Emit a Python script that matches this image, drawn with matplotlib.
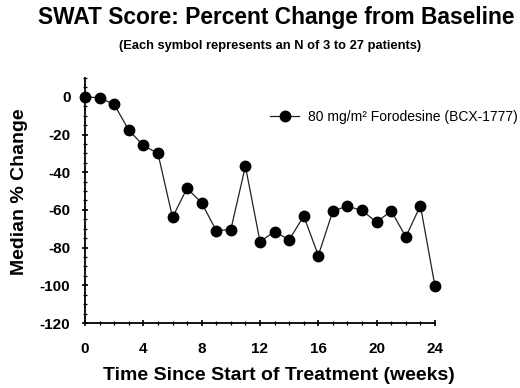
import matplotlib
matplotlib.use("Agg")
from matplotlib import pyplot as plt
from matplotlib.ticker import MultipleLocator

# weeks since start of treatment and median % change of SWAT score
weeks = list(range(0, 25))
median_change = [0, -0.5, -4, -17.7, -25.8, -30, -63.9, -48.5, -56.3, -71, -70.4,
                 -36.8, -76.8, -71.5, -75.9, -63.2, -84.2, -60.5, -58, -60.3, -66.5,
                 -60.5, -74.3, -57.7, -100.5]
series_label = "80 mg/m\u00b2 Forodesine (BCX-1777)"

plt.rcParams['font.family'] = ['Liberation Sans', 'DejaVu Sans']
plt.rcParams['axes.unicode_minus'] = False

fig = plt.figure(figsize=(5.2, 3.88), dpi=100)
ax = fig.add_axes([0.1635, 0.1675, 0.673, 0.6315])

ax.plot(weeks, median_change, color='#222222', lw=0.9, marker='o', ms=7.5,
        mfc='black', mec='black', label=series_label, clip_on=False)

ax.set_xlim(0, 24)
ax.set_ylim(-120, 10)
ax.xaxis.set_major_locator(MultipleLocator(4))
ax.xaxis.set_minor_locator(MultipleLocator(1))
ax.yaxis.set_major_locator(MultipleLocator(20))
ax.yaxis.set_minor_locator(MultipleLocator(5))
ax.spines['top'].set_visible(False)
ax.spines['right'].set_visible(False)
for s in ('left', 'bottom'):
    ax.spines[s].set_linewidth(1.3)
ax.tick_params(which='major', direction='inout', length=5, width=1.2, labelsize=11)
ax.tick_params(which='minor', direction='inout', length=3, width=0.9)
for lab in ax.get_xticklabels() + ax.get_yticklabels():
    lab.set_fontweight('bold')
ax.tick_params(axis='x', pad=11)
ax.tick_params(axis='y', pad=8)

fig.text(0.536, 0.031, "Time Since Start of Treatment (weeks)", ha='center', va='center',
         fontsize=14, fontweight='bold')
fig.text(0.037, 0.506, "Median % Change", ha='center', va='center', rotation=90,
         fontsize=14, fontweight='bold')

ax.legend(loc='center left', bbox_to_anchor=(270 / 520, 1 - 117 / 388),
          bbox_transform=fig.transFigure, frameon=False, fontsize=10,
          handlelength=2.1, handletextpad=0.6, borderpad=0, borderaxespad=0)

fig.text(0.531, 0.956, "SWAT Score: Percent Change from Baseline", ha='center', va='center',
         fontsize=16.4, fontweight='bold')
fig.text(0.52, 0.881, "(Each symbol represents an N of 3 to 27 patients)", ha='center', va='center',
         fontsize=9.3, fontweight='bold')

fig.savefig("out.png", dpi=100)
